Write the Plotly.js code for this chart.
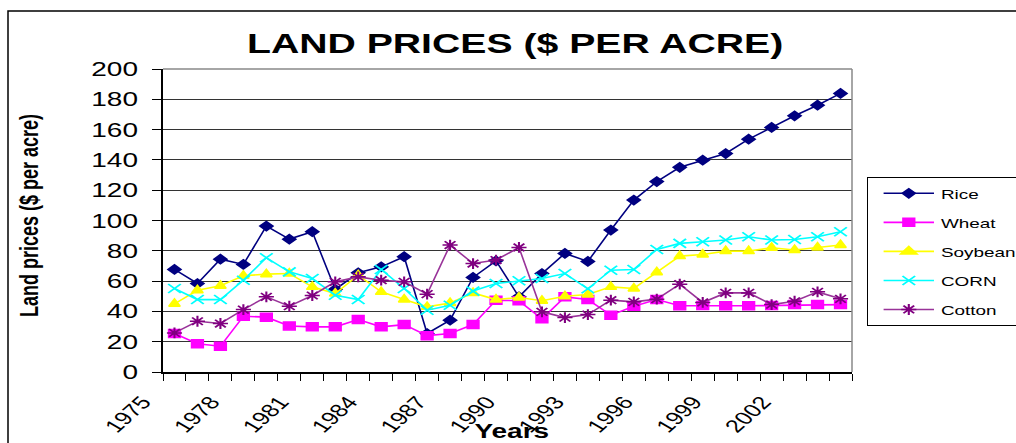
<!DOCTYPE html>
<html><head><meta charset="utf-8">
<script src="https://cdn.plot.ly/plotly-3.0.1.min.js"></script>
<style>html,body{margin:0;padding:0;background:#fff;}#chart{width:1016px;height:443px;}</style>
</head><body><div id="chart"></div>
<script>
const years = [1975,1976,1977,1978,1979,1980,1981,1982,1983,1984,1985,1986,1987,1988,1989,1990,1991,1992,1993,1994,1995,1996,1997,1998,1999,2000,2001,2002,2003,2004];
const tickYears = [1975,1978,1981,1984,1987,1990,1993,1996,1999,2002];
const tickLabels = ["1975","1978","1981","1984","1987","1990","1993","1996","1999","2002"];
const rice    = [67.7,58.4,74.5,71.0,96.3,87.7,92.6,54.5,65.5,69.4,76.1,25.4,34.2,62.4,73.4,49.6,65.0,78.3,73.0,93.7,113.5,125.7,135.1,139.8,144.2,153.7,161.4,169.1,176.1,183.9];
const wheat   = [25.4,18.7,17.0,36.8,36.2,30.4,29.8,29.8,34.6,29.8,31.3,24.0,25.4,31.3,47.4,47.0,35.1,49.6,47.8,37.5,43.4,47.8,43.7,43.9,43.7,43.7,43.9,44.5,44.5,44.5];
const soybean = [45.0,54.0,56.9,63.5,64.6,65.0,56.2,51.8,63.9,52.9,47.8,43.0,45.6,52.2,47.8,49.2,47.0,50.0,51.1,56.2,55.1,65.9,76.5,77.6,79.8,79.8,82.0,80.5,82.2,83.8];
const corn    = [55.1,47.8,47.8,60.6,75.4,66.1,61.7,50.7,47.8,67.7,55.1,40.8,44.1,53.4,58.4,60.2,61.7,65.0,54.9,67.2,67.7,80.9,84.9,86.0,87.1,89.3,87.1,87.5,89.3,92.6];
const cotton  = [25.8,33.5,32.0,41.2,49.6,43.4,50.5,59.5,62.8,60.6,59.5,51.4,83.8,71.6,73.9,82.2,39.7,35.9,37.9,47.4,46.3,48.1,58.0,45.9,52.2,52.2,44.5,46.7,52.9,48.3];

const STRETCH = 1.4;       // the reference is drawn horizontally stretched

function tr(name, y, color, symbol, size, lineColor){
  return {x: years, y: y, name: name, legendgroup: name, type: 'scatter', mode: 'lines+markers',
    line: {color: lineColor || color, width: 1.6},
    marker: {symbol: symbol, size: size, color: color, line: {color: color, width: 1.5}}};
}
const data = [
  tr('Rice', rice, '#000080', 'diamond', 7),
  tr('Wheat', wheat, '#FF00FF', 'square', 8),
  tr('Soybean', soybean, '#FFFF00', 'triangle-up', 10),
  tr('CORN', corn, '#00FFFF', 'x-thin-open', 9),
  tr('Cotton', cotton, '#800080', 'asterisk-open', 9, '#993399')
];
const stretchMarkers = [true, true, false, true, true];
const W = 689, H = 303;
const FONT = 'Arial, Liberation Sans, sans-serif';
const layout = {
  width: 1016, height: 443,
  margin: {l: 163, r: 164, t: 69, b: 71},
  paper_bgcolor: '#fff', plot_bgcolor: '#fff',
  showlegend: true,
  font: {family: FONT, color: '#000'},
  title: {text: '<b>LAND PRICES ($ PER ACRE)</b>', font: {size: 28, family: FONT, color: '#000'},
          x: 0.507, xref: 'container', xanchor: 'center', y: 0.903, yref: 'container', yanchor: 'middle'},
  xaxis: {type: 'linear', range: [1974.5, 2004.5], tickmode: 'array',
          tickvals: tickYears, ticktext: tickLabels, ticklabelshift: -28,
          tickangle: -51, ticks: '', ticklen: 0, ticklabelstandoff: 11, showgrid: false, zeroline: false,
          showline: true, linecolor: '#000', linewidth: 1.5, tickfont: {size: 18},
          minor: {tick0: 1974.5, dtick: 1, ticks: 'outside', ticklen: 7, tickcolor: '#000', showgrid: false},
          automargin: false},
  yaxis: {range: [0, 200], dtick: 20, ticks: 'outside', ticklen: 9, tickcolor: '#000', ticklabelstandoff: 10,
          showgrid: true, gridcolor: '#333', gridwidth: 1, zeroline: false,
          showline: true, linecolor: '#000', linewidth: 2, tickfont: {size: 20}, automargin: false},
  annotations: [
    {text: '<b>Years</b>', xref: 'paper', yref: 'paper', x: (512-163)/W, y: (372-431)/H,
     xanchor: 'center', yanchor: 'middle', showarrow: false, font: {size: 20, family: FONT}},
    {text: '<b>Land prices ($ per acre)</b>', xref: 'paper', yref: 'paper', x: (30-163)/W, y: (372-216)/H,
     xanchor: 'center', yanchor: 'middle', textangle: -90, showarrow: false, font: {size: 18, family: FONT}}
  ],
  legend: {xref: 'container', yref: 'container', x: 867/1016, y: 1 - 177/443, xanchor: 'left', yanchor: 'top',
           bgcolor: '#fff', bordercolor: '#000', borderwidth: 1, font: {size: 13.5}, tracegroupgap: 8.5,
           traceorder: 'grouped', itemwidth: 36, indentation: 6},
  shapes: [
    {type: 'line', xref: 'paper', yref: 'paper', x0: 0, x1: 1, y0: 1, y1: 1, line: {color: '#888', width: 1.5}},
    {type: 'line', xref: 'paper', yref: 'paper', x0: 1, x1: 1, y0: 0, y1: 1, line: {color: '#888', width: 1.5}},
    {type: 'rect', xref: 'paper', yref: 'paper', x0: (8-163)/W, x1: (1030-163)/W, y0: (372-460)/H, y1: (372-11)/H, line: {color: '#000', width: 1.5}}
  ]
};

// stretch a rendered svg element horizontally about one of its bounding-box points
function stretch(el, sx, where){
  const r = el.getBoundingClientRect();
  let ax = (r.left + r.right) / 2, ay = (r.top + r.bottom) / 2;
  if (where === 'left') ax = r.left;
  if (where === 'right') ax = r.right;
  if (where === 'topright') { ax = r.right; ay = r.top; }
  const m = el.parentNode.getScreenCTM().inverse();
  const p = el.ownerSVGElement.createSVGPoint(); p.x = ax; p.y = ay;
  const q = p.matrixTransform(m);
  const old = el.getAttribute('transform') || '';
  el.setAttribute('transform', `translate(${q.x},${q.y}) scale(${sx},1) translate(${-q.x},${-q.y}) ${old}`);
}

Plotly.newPlot('chart', data, layout, {displayModeBar: false, staticPlot: true}).then(gd => {
  gd.querySelectorAll('.gtitle').forEach(t => stretch(t, STRETCH, 'center'));
  gd.querySelectorAll('.yaxislayer-above .ytick text').forEach(t => stretch(t, STRETCH, 'right'));
  gd.querySelectorAll('.xaxislayer-above .xtick text').forEach(t => stretch(t, STRETCH, 'topright'));
  gd.querySelectorAll('.annotation-text-g').forEach(t => stretch(t, STRETCH, 'center'));
  gd.querySelectorAll('.scatterlayer .trace').forEach((g, i) => {
    if (!stretchMarkers[i]) return;
    g.querySelectorAll('path.point').forEach(p => {
      p.setAttribute('transform', (p.getAttribute('transform') || '') + ` scale(${STRETCH},1)`);
    });
  });
  gd.querySelectorAll('g.legend').forEach(t => stretch(t, STRETCH, 'left'));
});
</script></body></html>
